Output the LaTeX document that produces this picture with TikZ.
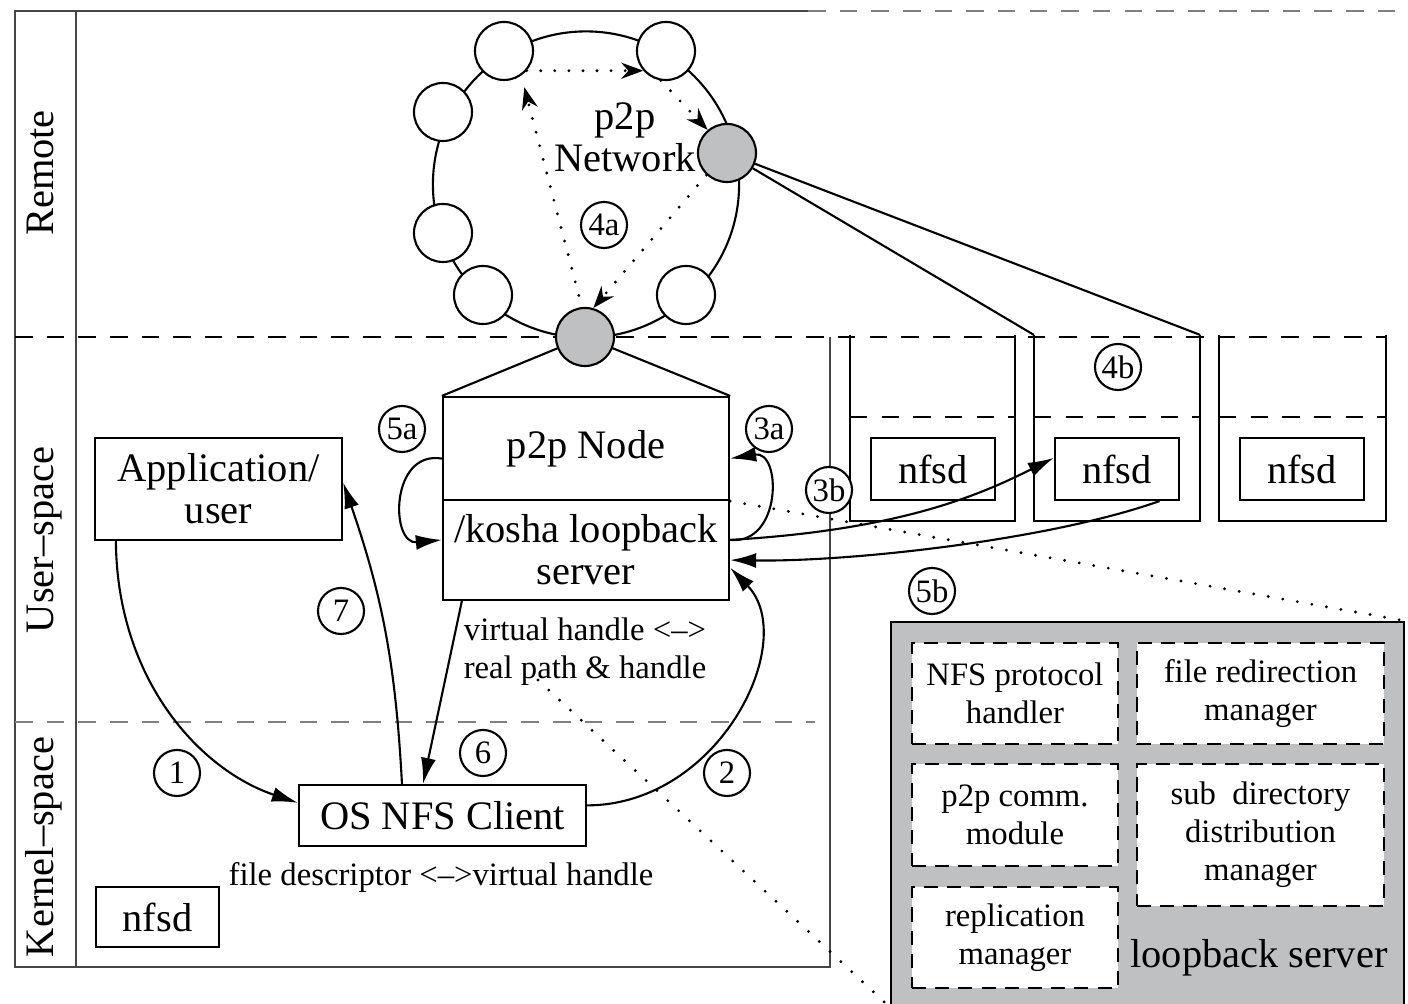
\documentclass[tikz,border=0pt]{standalone}
\usepackage{fontspec}
\setmainfont{Liberation Serif}
\usetikzlibrary{arrows.meta}

\definecolor{nodegray}{RGB}{190,192,194}
\definecolor{framegray}{RGB}{70,70,70}
\newcommand{\mainsize}{\fontsize{11.5}{12}\selectfont}
\newcommand{\smallsize}{\fontsize{9.3}{10.8}\selectfont}

\tikzset{
  every node/.style={font=\mainsize},
  box/.style={draw, inner sep=0pt, align=center},
  peer/.style={draw, circle, fill=white, minimum size=0.58cm, inner sep=0pt},
  hub/.style={peer, fill=nodegray},
  numlabel/.style={draw, circle, fill=white, minimum size=0.46cm, inner sep=0pt, font=\smallsize},
  flow/.style={-{Latex[length=2.6mm,width=1.5mm]}},
  hop/.style={line width=0.9pt, dash pattern=on 0pt off 4pt, line cap=round,
    -{Stealth[length=2.2mm,width=1.6mm]}},
  zoomline/.style={line width=0.9pt, dash pattern=on 0pt off 4.2pt, line cap=round},
  layer/.style={dash pattern=on 5pt off 4pt},
  module/.style={draw, fill=white, line width=0.7pt, dash pattern=on 4pt off 2.6pt,
    inner sep=0pt, align=center, font=\smallsize},
}

\begin{document}
\begin{tikzpicture}[x=0.01cm, y=-0.01cm, line width=0.6pt]
  \useasboundingbox (0,0) rectangle (1408,1004);

  % frame and layers
  \draw[framegray, line width=0.8pt] (808,11) -- (15,11) -- (15,967) -- (830,967) -- (830,337);
  \draw[framegray, line width=0.8pt] (76,11) -- (76,967);
  \draw[gray, line width=0.8pt, layer] (808,11) -- (1408,11);
  \draw[layer] (15,337) -- (1385,337);
  \draw[gray, line width=0.8pt, layer] (15,722) -- (815,722);
  \node[rotate=90, anchor=base] (remote) at (54,173) {Remote};
  \node[rotate=90, anchor=base] (user) at (54,540) {User--space};
  \node[rotate=90, anchor=base] (kernel) at (54,847) {Kernel--space};

  % p2p ring
  \draw (586,184.5) circle [radius=1.53cm];
  \node[peer] (c1) at (504,51) {};
  \node[peer] (c2) at (666,51) {};
  \node[peer] (c3) at (443,112) {};
  \node[peer] (c4) at (443,233) {};
  \node[peer] (c5) at (483,295) {};
  \node[peer] (c6) at (686,295) {};
  \node[hub] (gR) at (727,153) {};
  \node[hub] (gB) at (585,337) {};
  \node[align=center] (p2pnet) at (625,137) {p2p\\Network};
  \draw[hop, shorten <=0.12cm, shorten >=0.12cm] (gB.96) -- (c1.-55);
  \draw[hop] (c1.-41) -- (c2.221);
  \draw[hop] (c2.-100) -- (gR.130);
  \draw[hop] (gR.227) -- (gB.74);

  % local node
  \node[box, minimum width=2.86cm, minimum height=1.03cm] (p2p) at (586,448.5) {p2p Node};
  \node[box, minimum width=2.86cm, minimum height=1.00cm] (kosha) at (586,550) {/kosha loopback\\server};
  \draw (gB) -- (p2p.north west);
  \draw (gB) -- (p2p.north east);
  \node[box, minimum width=2.47cm, minimum height=1.02cm] (app) at (218.5,489) {Application/\\user};
  \node[box, minimum width=2.87cm, minimum height=0.61cm] (client) at (442.5,815.5) {OS NFS Client};
  \node[box, minimum width=1.23cm, minimum height=0.60cm] (knfsd) at (157.5,917) {nfsd};
  \node[font=\smallsize, align=center] (vhandle) at (585,652) {virtual handle <-->\\real path \& handle};
  \node[font=\smallsize] (fdesc) at (441,877) {file descriptor <-->virtual handle};

  % remote servers
  \node[minimum width=1.63cm, minimum height=1.84cm, inner sep=0pt] (srvA) at (932.5,428) {};
  \draw (srvA.north west) -- (srvA.south west) -- (srvA.south east) -- (srvA.north east);
  \draw[layer] ([yshift=-0.82cm]srvA.north west) -- ([yshift=-0.82cm]srvA.north east);
  \node[box, minimum width=1.24cm, minimum height=0.62cm] (nfsdA) at (933,469) {nfsd};
  \node[minimum width=1.64cm, minimum height=1.84cm, inner sep=0pt] (srvB) at (1117,428) {};
  \draw (srvB.north west) -- (srvB.south west) -- (srvB.south east) -- (srvB.north east);
  \draw[layer] ([yshift=-0.82cm]srvB.north west) -- ([yshift=-0.82cm]srvB.north east);
  \node[box, minimum width=1.24cm, minimum height=0.62cm] (nfsdB) at (1117,469) {nfsd};
  \node[minimum width=1.65cm, minimum height=1.84cm, inner sep=0pt] (srvC) at (1302.5,428) {};
  \draw (srvC.north west) -- (srvC.south west) -- (srvC.south east) -- (srvC.north east);
  \draw[layer] ([yshift=-0.82cm]srvC.north west) -- ([yshift=-0.82cm]srvC.north east);
  \node[box, minimum width=1.24cm, minimum height=0.62cm] (nfsdC) at (1302,469) {nfsd};
  \draw (gR) -- (srvB.north west);
  \draw (gR) -- (srvB.north east);

  % flows
  \draw[flow] ([xshift=0.22cm]app.south west) .. controls (117,680) and (200,770) .. (client.175);
  \draw[flow] (client.4) .. controls (720,805) and (800,640) .. (kosha.-7);
  \draw[flow] ([xshift=0.2cm]kosha.south west) -- ([xshift=-0.195cm]client.north);
  \draw[flow] ([xshift=-0.405cm]client.north) to[bend right=8] (app.3);
  \draw[flow] (p2p.184) .. controls (390,450) and (390,545) .. (kosha.176);
  \draw[flow] (kosha.4) .. controls (782,545) and (782,450) .. (p2p.-4);
  \draw[flow] (kosha.4) .. controls (900,530) and (980,495) .. (nfsdB.170);
  \draw[flow] (nfsdB.-37) .. controls (1050,540) and (850,562) .. (kosha.-4);

  % step numbers
  \node[numlabel] (n1) at (177,773) {1};
  \node[numlabel] (n2) at (727,773) {2};
  \node[numlabel] (n3a) at (769,429) {3a};
  \node[numlabel] (n3b) at (829,490) {3b};
  \node[numlabel] (n4a) at (604,225) {4a};
  \node[numlabel] (n4b) at (1118,367) {4b};
  \node[numlabel] (n5a) at (402,429) {5a};
  \node[numlabel] (n5b) at (932,591) {5b};
  \node[numlabel] (n6) at (483,753) {6};
  \node[numlabel] (n7) at (341,611) {7};

  % loopback server detail
  \node[draw, fill=nodegray, minimum width=5.13cm, minimum height=3.84cm, inner sep=0pt] (lbbox) at (1147.5,814) {};
  \coordinate (zoomfrom) at (538,680);
  \draw[zoomline] (p2p.south east) -- (lbbox.north east);
  \draw[zoomline] (zoomfrom) -- (lbbox.south west);
  \node[module, minimum width=2.06cm, minimum height=1.01cm] (nfsproto) at (1015,693.5) {NFS protocol\\handler};
  \node[module, minimum width=2.47cm, minimum height=1.01cm] (redirect) at (1260.5,693.5) {file redirection\\manager};
  \node[module, minimum width=2.06cm, minimum height=1.02cm] (comm) at (1015,815) {p2p comm.\\module};
  \node[module, minimum width=2.47cm, minimum height=1.42cm] (subdir) at (1260.5,835) {sub\ \ directory\\distribution\\manager};
  \node[module, minimum width=2.06cm, minimum height=1.01cm] (replica) at (1015,937.5) {replication\\manager};
  \node (lbname) at (1259,958) {loopback server};
\end{tikzpicture}
\end{document}
